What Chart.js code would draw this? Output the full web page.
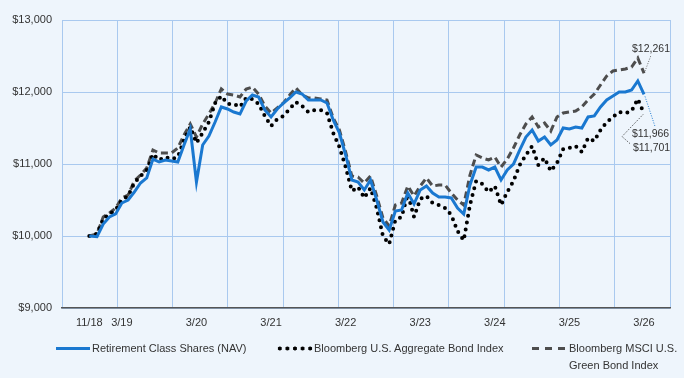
<!DOCTYPE html>
<html>
<head>
<meta charset="utf-8">
<script src="https://cdn.jsdelivr.net/npm/chart.js@4.4.1/dist/chart.umd.min.js"></script>
<style>
  html, body { margin: 0; padding: 0; background: #eef5fc; }
  #wrap { position: relative; width: 684px; height: 378px; font-family: "Liberation Sans", Arial, sans-serif; color: #333; }
  #chart { position: absolute; left: 0; top: 0; }
  .lg { position: absolute; font-size: 11px; line-height: 17px; white-space: nowrap; }
  .sw { position: absolute; }
</style>
</head>
<body>
<div id="wrap">
  <canvas id="chart" width="684" height="378"></canvas>
  <div class="sw" style="left:56px; top:347px; width:34px; height:3px; background:#1a78d0;"></div>
  <div class="lg" style="left:92px; top:340px;">Retirement Class Shares (NAV)</div>
  <div class="sw" style="left:276px; top:346px; width:38px; height:5px; background:radial-gradient(circle, #000 1.7px, transparent 2.3px) 0 0 / 7.6px 5px repeat-x;"></div>
  <div class="lg" style="left:314px; top:340px;">Bloomberg U.S. Aggregate Bond Index</div>
  <div class="sw" style="left:532px; top:347px; width:34px; height:3px; background:repeating-linear-gradient(to right, #4d4d4d 0 7px, transparent 7px 13px);"></div>
  <div class="lg" style="left:569px; top:340px;">Bloomberg MSCI U.S.<br>Green Bond Index</div>
</div>
<script>
// month index: inception 11/16/18, then month-ends 11/18 .. 3/26
const months = [-1.24].concat(Array.from({ length: 89 }, (_, i) => i));

const navValues = [10000, 9990, 10167, 10264, 10306, 10458, 10500, 10611, 10736, 10806,
  11069, 11028, 11056, 11042, 11028, 11264, 11486, 10750, 11264, 11389,
  11583, 11792, 11764, 11722, 11694, 11875, 11958, 11930, 11750, 11653,
  11764, 11847, 11917, 12000, 11972, 11889, 11889, 11889, 11847, 11611,
  11431, 11125, 10778, 10750, 10639, 10778, 10500, 10194, 10083, 10347,
  10361, 10597, 10444, 10639, 10694, 10597, 10542, 10542, 10528, 10389,
  10306, 10708, 10958, 10958, 10917, 10958, 10778, 10917, 11000, 11194,
  11375, 11472, 11319, 11375, 11264, 11333, 11500, 11486, 11514, 11500,
  11653, 11667, 11792, 11889, 11944, 12000, 12000, 12028, 12153, 11966];

const aggValues = [10000, 10030, 10236, 10306, 10361, 10500, 10556, 10736, 10833, 10917,
  11139, 11056, 11097, 11069, 11097, 11333, 11514, 11292, 11431, 11583,
  11847, 11944, 11833, 11833, 11792, 11917, 11903, 11833, 11667, 11528,
  11625, 11667, 11764, 11861, 11806, 11722, 11750, 11750, 11708, 11431,
  11236, 10958, 10625, 10681, 10528, 10667, 10389, 10000, 9889, 10222,
  10264, 10583, 10264, 10514, 10556, 10458, 10431, 10389, 10292, 10069,
  9940, 10431, 10764, 10722, 10611, 10694, 10431, 10611, 10764, 10986,
  11125, 11250, 10986, 11083, 10903, 11014, 11208, 11222, 11250, 11167,
  11361, 11319, 11472, 11583, 11653, 11722, 11708, 11736, 11903, 11701];

const greenValues = [10000, 10030, 10264, 10319, 10389, 10528, 10569, 10764, 10847, 10944,
  11194, 11153, 11153, 11153, 11222, 11403, 11556, 11375, 11556, 11694,
  11847, 12042, 11972, 11958, 11931, 12042, 12069, 11972, 11806, 11708,
  11778, 11847, 11958, 12056, 11958, 11917, 11917, 11903, 11889, 11639,
  11472, 11167, 10833, 10819, 10736, 10833, 10556, 10250, 10139, 10431,
  10458, 10694, 10556, 10694, 10806, 10694, 10708, 10708, 10597, 10500,
  10431, 10847, 11125, 11083, 11056, 11097, 10958, 11069, 11222, 11403,
  11556, 11653, 11514, 11569, 11458, 11653, 11708, 11722, 11736, 11792,
  11889, 11972, 12097, 12222, 12292, 12306, 12319, 12347, 12472, 12261];

const tickMonths = [-1.24, 4, 16, 28, 40, 52, 64, 76, 88];
const tickLabels = ['11/18', '3/19', '3/20', '3/21', '3/22', '3/23', '3/24', '3/25', '3/26'];

const gridColor = '#a9c9ef';
const dollars = v => '$' + v.toLocaleString('en-US');
const pts = vals => months.map((m, i) => ({ x: m, y: vals[i] }));

const endLabels = {
  id: 'endLabels',
  afterDatasetsDraw(chart) {
    const ctx = chart.ctx;
    const last = i => { const d = chart.getDatasetMeta(i).data; return d[d.length - 1]; };
    const nav = last(0), agg = last(1), grn = last(2);
    const seg = (color, path) => {
      ctx.strokeStyle = color;
      ctx.beginPath();
      ctx.moveTo(path[0][0], path[0][1]);
      path.slice(1).forEach(p => ctx.lineTo(p[0], p[1]));
      ctx.stroke();
    };
    ctx.save();
    ctx.lineWidth = 1;
    ctx.setLineDash([1, 1.5]);
    seg('#666', [[grn.x + 1, grn.y - 2], [grn.x + 7, grn.y - 18]]);
    seg('#1a78d0', [[nav.x + 1, nav.y + 2], [nav.x + 11, nav.y + 32]]);
    seg('#333', [[agg.x - 1, agg.y + 1], [agg.x - 22, agg.y + 23], [agg.x - 13, agg.y + 31]]);
    ctx.setLineDash([]);
    ctx.fillStyle = '#333';
    ctx.font = '10.5px "Liberation Sans", Arial, sans-serif';
    ctx.textBaseline = 'middle';
    ctx.textAlign = 'left';
    ctx.fillText(dollars(greenValues[greenValues.length - 1]), grn.x - 12, grn.y - 24);
    ctx.fillText(dollars(navValues[navValues.length - 1]), nav.x - 12, nav.y + 40);
    ctx.fillText(dollars(aggValues[aggValues.length - 1]), agg.x - 11, agg.y + 35);
    ctx.restore();
  }
};

new Chart(document.getElementById('chart'), {
  type: 'line',
  data: {
    datasets: [{
      label: 'Retirement Class Shares (NAV)',
      data: pts(navValues),
      borderColor: '#1a78d0',
      borderWidth: 3,
      pointRadius: 0,
      tension: 0
    }, {
      label: 'Bloomberg U.S. Aggregate Bond Index',
      data: pts(aggValues),
      borderColor: '#000',
      borderWidth: 4,
      borderDash: [0, 7],
      borderCapStyle: 'round',
      pointRadius: 0,
      tension: 0
    }, {
      label: 'Bloomberg MSCI U.S. Green Bond Index',
      data: pts(greenValues),
      borderColor: '#4d4d4d',
      borderWidth: 3,
      borderDash: [7, 4],
      pointRadius: 0,
      tension: 0
    }]
  },
  options: {
    responsive: false,
    animation: false,
    layout: { padding: { top: 20, right: 14, left: 0, bottom: 0 } },
    plugins: {
      legend: { display: false },
      tooltip: { enabled: false }
    },
    scales: {
      x: {
        type: 'linear',
        position: 'bottom',
        min: -5.63,
        max: 92.18,
        grid: { display: false, drawTicks: false },
        border: { display: true, color: '#555', width: 1.5 },
        afterBuildTicks: s => { s.ticks = tickMonths.map(v => ({ value: v })); },
        afterFit: s => { s.height = 70; },
        ticks: {
          autoSkip: false,
          maxRotation: 0,
          padding: 8,
          color: '#333',
          font: { family: '"Liberation Sans", Arial, sans-serif', size: 11 },
          callback: (v, i) => tickLabels[i]
        }
      },
      xg: {
        type: 'linear',
        position: 'bottom',
        min: 0,
        max: 11,
        grid: { color: gridColor, lineWidth: 1, drawTicks: false },
        border: { display: false },
        ticks: { display: false, stepSize: 1 },
        afterFit: s => { s.height = 0; }
      },
      y: {
        min: 9000,
        max: 13000,
        grid: { color: gridColor, lineWidth: 1, drawTicks: false },
        border: { display: false },
        afterFit: s => { s.width = 62; },
        ticks: {
          stepSize: 1000,
          padding: 10,
          color: '#333',
          font: { family: '"Liberation Sans", Arial, sans-serif', size: 11 },
          callback: v => dollars(v)
        }
      }
    }
  },
  plugins: [endLabels]
});
</script>
</body>
</html>
